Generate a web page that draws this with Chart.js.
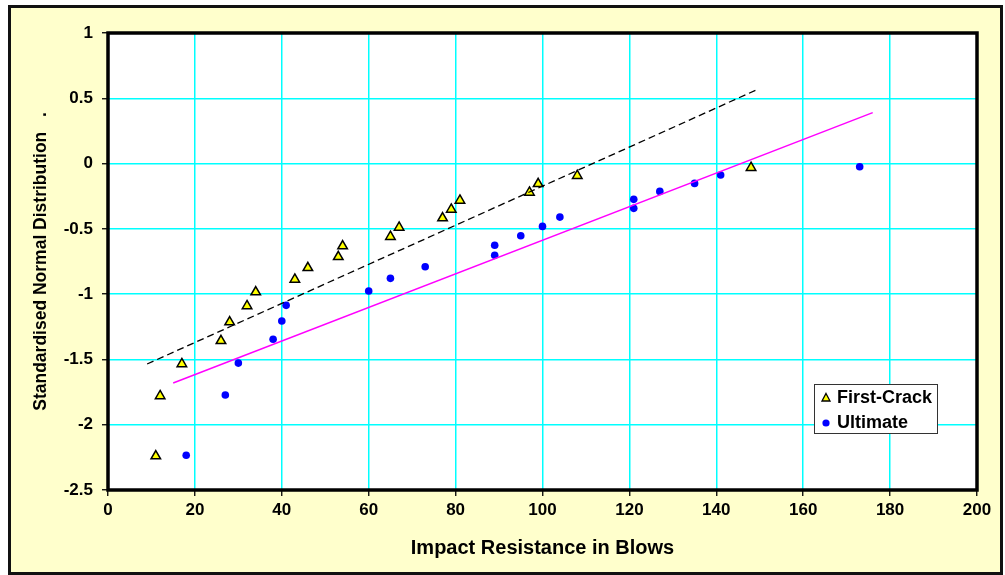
<!DOCTYPE html>
<html>
<head>
<meta charset="utf-8">
<script src="https://cdn.jsdelivr.net/npm/chart.js@4.4.1/dist/chart.umd.min.js"></script>
<style>
  html, body { margin: 0; padding: 0; background: #ffffff; overflow: hidden; }
  canvas { display: block; }
</style>
</head>
<body>
<canvas id="myChart" width="1005" height="575"></canvas>
<script>
const firstCrackX = [11, 12, 17, 26, 28, 32, 34, 43, 46, 53, 54, 65, 67, 77, 79, 81, 97, 99, 108, 148];
const firstCrackY = [-2.24, -1.78, -1.535, -1.357, -1.214, -1.09, -0.984, -0.887, -0.798, -0.714,
                     -0.632, -0.56, -0.489, -0.417, -0.351, -0.282, -0.221, -0.155, -0.093, -0.032];
const ultimateX = [18, 27, 30, 38, 40, 41, 60, 65, 73, 89, 89, 95, 100, 104, 121, 121, 127, 135, 141, 173];
const ultimateY = [-2.234, -1.773, -1.528, -1.346, -1.206, -1.086, -0.976, -0.879, -0.79, -0.703,
                   -0.626, -0.553, -0.481, -0.41, -0.343, -0.274, -0.213, -0.152, -0.088, -0.024];

// trend lines (end points)
const firstTrendX = [9, 149.5];
const firstTrendY = [-1.535, 0.568];
const ultimateTrendX = [15, 176];
const ultimateTrendY = [-1.68, 0.39];

const seriesNames = ["First-Crack", "Ultimate"];
const xTitle = "Impact Resistance in Blows";
const yTitle = "Standardised Normal Distribution   .";

const FONT = "Arial, 'Liberation Sans', sans-serif";

function pts(xs, ys) {
    return xs.map((x, i) => ({ x: x, y: ys[i] }));
}

// frame, white plot area and the boxed legend
const decor = {
    id: "decor",
    beforeDraw(chart) {
        const ctx = chart.ctx;
        const a = chart.chartArea;
        ctx.save();
        ctx.fillStyle = "#ffffcc";
        ctx.fillRect(9, 6, 993, 568);
        ctx.lineWidth = 3;
        ctx.strokeStyle = "#111111";
        ctx.strokeRect(9.5, 6.5, 992, 567);
        ctx.fillStyle = "#ffffff";
        ctx.fillRect(a.left, a.top, a.right - a.left, a.bottom - a.top);
        ctx.restore();
    },
    afterDraw(chart) {
        const ctx = chart.ctx;
        const a = chart.chartArea;
        ctx.save();
        ctx.lineWidth = 3.5;
        ctx.strokeStyle = "#000000";
        ctx.strokeRect(a.left, a.top, a.right - a.left, a.bottom - a.top);

        // legend
        const lx = 814.5, ly = 384.5;
        ctx.fillStyle = "#ffffff";
        ctx.fillRect(lx, ly, 123, 49);
        ctx.lineWidth = 1;
        ctx.strokeStyle = "#333333";
        ctx.strokeRect(lx, ly, 123, 49);

        ctx.fillStyle = "#ffff00";
        ctx.strokeStyle = "#000000";
        ctx.lineWidth = 1.3;
        ctx.beginPath();
        ctx.moveTo(826, 393.5);
        ctx.lineTo(830, 401);
        ctx.lineTo(822, 401);
        ctx.closePath();
        ctx.fill();
        ctx.stroke();

        ctx.fillStyle = "#0000ff";
        ctx.beginPath();
        ctx.arc(826, 423, 3.6, 0, Math.PI * 2);
        ctx.fill();

        ctx.fillStyle = "#000000";
        ctx.font = "bold 18px " + FONT;
        ctx.textBaseline = "middle";
        ctx.textAlign = "left";
        ctx.fillText(seriesNames[0], 837, 398);
        ctx.fillText(seriesNames[1], 837, 423);
        ctx.restore();
    }
};

const ctx = document.getElementById("myChart").getContext("2d");
new Chart(ctx, {
    type: "scatter",
    data: {
        datasets: [
            {
                label: "First-Crack trend",
                data: pts(firstTrendX, firstTrendY),
                showLine: true,
                borderColor: "#000000",
                borderWidth: 1.3,
                borderDash: [7, 4],
                pointRadius: 0,
                fill: false
            },
            {
                label: "Ultimate trend",
                data: pts(ultimateTrendX, ultimateTrendY),
                showLine: true,
                borderColor: "#ff00ff",
                borderWidth: 1.5,
                pointRadius: 0,
                fill: false
            },
            {
                label: seriesNames[0],
                data: pts(firstCrackX, firstCrackY),
                pointStyle: "triangle",
                pointRadius: 5.5,
                backgroundColor: "#ffff00",
                borderColor: "#000000",
                borderWidth: 1.5
            },
            {
                label: seriesNames[1],
                data: pts(ultimateX, ultimateY),
                pointStyle: "circle",
                pointRadius: 3.8,
                backgroundColor: "#0000ff",
                borderColor: "#0000ff",
                borderWidth: 0
            }
        ]
    },
    options: {
        responsive: false,
        animation: false,
        devicePixelRatio: 1,
        layout: { padding: { left: 0, top: 33, right: 28, bottom: 0 } },
        plugins: {
            legend: { display: false },
            tooltip: { enabled: false }
        },
        scales: {
            x: {
                type: "linear",
                min: 0,
                max: 200,
                afterFit: (scale) => { scale.height = 85; },
                border: { display: false },
                grid: {
                    color: "#00ffff",
                    lineWidth: 1.5,
                    tickColor: "#000000",
                    tickWidth: 1.3,
                    tickLength: 6
                },
                ticks: {
                    stepSize: 20,
                    color: "#000000",
                    padding: 4,
                    maxRotation: 0,
                    font: { family: FONT, size: 17, weight: "bold" }
                },
                title: {
                    display: true,
                    text: xTitle,
                    color: "#000000",
                    padding: { top: 0, bottom: 15 },
                    font: { family: FONT, size: 20, weight: "bold" }
                }
            },
            y: {
                type: "linear",
                min: -2.5,
                max: 1,
                afterFit: (scale) => { scale.width = 108; },
                border: { display: false },
                grid: {
                    color: "#00ffff",
                    lineWidth: 1.5,
                    tickColor: "#000000",
                    tickWidth: 1.3,
                    tickLength: 6
                },
                ticks: {
                    stepSize: 0.5,
                    color: "#000000",
                    padding: 9,
                    font: { family: FONT, size: 17, weight: "bold" },
                    callback: (v) => String(Math.round(v * 10) / 10)
                },
                title: {
                    display: true,
                    text: yTitle,
                    color: "#000000",
                    padding: { top: 31, bottom: 0 },
                    font: { family: FONT, size: 17.5, weight: "bold" }
                }
            }
        }
    },
    plugins: [decor]
});
</script>
</body>
</html>
